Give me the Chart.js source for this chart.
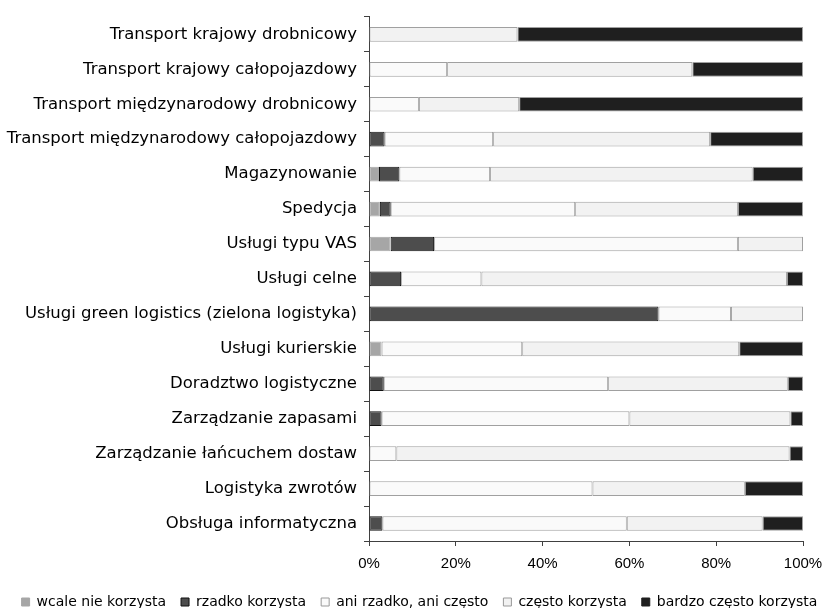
<!DOCTYPE html>
<html>
<head>
<meta charset="utf-8">
<script src="https://cdn.jsdelivr.net/npm/chart.js@4/dist/chart.umd.min.js"></script>
<style>
html,body{margin:0;padding:0;background:#fff;}
#wrap{width:839px;height:608px;}
</style>
</head>
<body>
<div id="wrap"><canvas id="c" width="839" height="608"></canvas></div>
<script>
const categories = [
  "Transport krajowy drobnicowy",
  "Transport krajowy całopojazdowy",
  "Transport międzynarodowy drobnicowy",
  "Transport międzynarodowy całopojazdowy",
  "Magazynowanie",
  "Spedycja",
  "Usługi typu VAS",
  "Usługi celne",
  "Usługi green logistics (zielona logistyka)",
  "Usługi kurierskie",
  "Doradztwo logistyczne",
  "Zarządzanie zapasami",
  "Zarządzanie łańcuchem dostaw",
  "Logistyka zwrotów",
  "Obsługa informatyczna"
];
const seriesNames = ["wcale nie korzysta","rzadko korzysta","ani rzadko, ani często","często korzysta","bardzo często korzysta"];
const wcaleNie   = [0,   0,    0,    0,    2.3, 2.5,  5,  0,    0,    2.9, 0,    0,    0,    0,    0];
const rzadko     = [0,   0,    0,    3.6,  4.7, 2.5,  10, 7.4,  66.7, 0,   3.4,  2.9,  0,    0,    3.1];
const aniAni     = [0,   18.0, 11.5, 25.0, 20.9,42.5, 70, 18.5, 16.7, 32.4,51.7, 57.1, 6.3,  51.5, 56.3];
const czesto     = [34.2,56.5, 23.1, 50.0, 60.5,37.5, 15, 70.4, 16.6, 50.0,41.4, 37.1, 90.6, 35.1, 31.3];
const bardzo     = [65.8,25.5, 65.4, 21.4, 11.6,15.0, 0,  3.7,  0,    14.7,3.5,  2.9,  3.1,  13.4, 9.3];
const xTicks = [0,20,40,60,80,100];

const fills   = ["#a6a6a6","#4d4d4d","#fafafa","#f2f2f2","#1f1f1f"];
const borders = ["#a6a6a6","#111111","#a0a0a0","#a0a0a0","#a0a0a0"];
const legendStrokes = ["#a6a6a6","#111111","#999999","#999999","#1f1f1f"];
const values = [wcaleNie, rzadko, aniAni, czesto, bardzo];

const datasets = seriesNames.map((n,i)=>({
  label: n,
  data: values[i],
  backgroundColor: fills[i],
  borderColor: borders[i],
  borderWidth: 1,
  borderSkipped: false,
  categoryPercentage: 1,
  barPercentage: 0.42
}));

const legendHeight = {
  id: 'legendHeight',
  beforeInit(chart) {
    const lg = chart.legend;
    if (!lg) return;
    const orig = lg.fit;
    lg.fit = function() { orig.call(this); this.height = 28; };
  }
};

new Chart(document.getElementById('c'), {
  type: 'bar',
  data: { labels: categories, datasets },
  plugins: [legendHeight],
  options: {
    indexAxis: 'y',
    responsive: false,
    animation: false,
    devicePixelRatio: 1,
    layout: { padding: { top: 14, right: 0, left: 0, bottom: 0 } },
    plugins: {
      tooltip: { enabled: false },
      legend: {
        position: 'bottom',
        labels: {
          boxWidth: 8, boxHeight: 8, padding: 15,
          color: '#000',
          font: { family: 'DejaVu Sans', size: 14 },
          generateLabels: (chart) => chart.data.datasets.map((d,i)=>({
            text: d.label, fillStyle: d.backgroundColor, strokeStyle: legendStrokes[i], lineWidth: 1,
            datasetIndex: i, fontColor: '#000'
          }))
        }
      }
    },
    scales: {
      x: {
        stacked: true,
        min: 0, max: 100,
        afterBuildTicks: (s) => { s.ticks = xTicks.map(v=>({value:v})); },
        afterFit: (s) => { s.height = 39; s.paddingRight = 36; },
        ticks: {
          callback: v => v + '%',
          color: '#000',
          font: { family: 'Liberation Sans', size: 15 },
          padding: 9,
          maxRotation: 0
        },
        grid: { drawOnChartArea: false, tickLength: 5, color: '#404040' },
        border: { color: '#404040', width: 1 }
      },
      y: {
        stacked: true,
        offset: true,
        afterFit: (s) => { s.width = 369; },
        ticks: {
          color: '#000',
          font: { family: 'DejaVu Sans', size: 16.5 },
          padding: 7
        },
        grid: { drawOnChartArea: false, offset: true, tickLength: 5, color: '#404040' },
        border: { color: '#404040', width: 1 }
      }
    }
  }
});
</script>
</body>
</html>
